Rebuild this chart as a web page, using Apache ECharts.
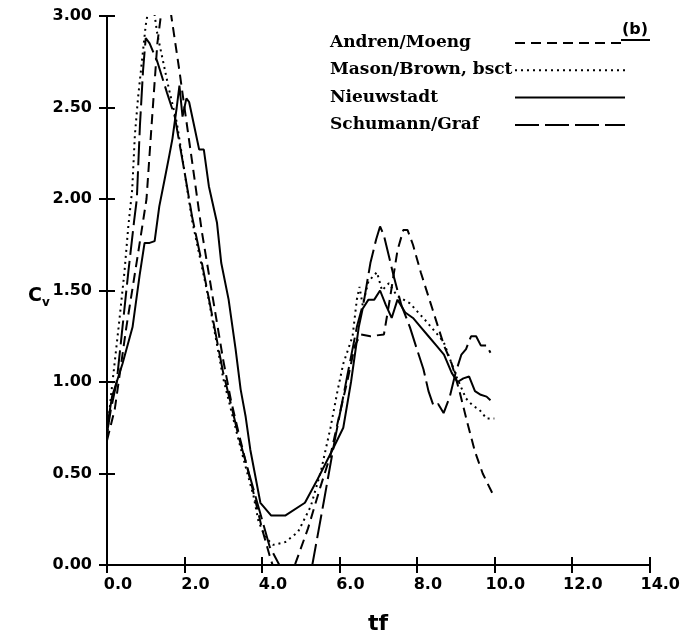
<!DOCTYPE html>
<html><head><meta charset="utf-8">
<script src="https://cdn.jsdelivr.net/npm/echarts@6/dist/echarts.min.js"></script>
<style>html,body{margin:0;padding:0;background:#fff}#c{width:683px;height:640px}</style>
</head><body><div id="c"></div>
<script>
const xTicks = [0, 2, 4, 6, 8, 10, 12, 14];
const yTicks = [0, 0.5, 1, 1.5, 2, 2.5, 3];
const seriesNames = ['Andren/Moeng', 'Mason/Brown, bsct', 'Nieuwstadt', 'Schumann/Graf'];

const andrenX = [0,0.2,0.5,0.8,1.02,1.15,1.3,1.45,1.55,1.66,1.87,2.0,2.2,2.45,2.7,3.0,3.2,3.4,3.6,3.8,4.0,4.2,4.35,4.6,4.85,5.19,5.5,5.77,6.0,6.2,6.4,6.55,6.8,7.15,7.3,7.5,7.65,7.76,7.9,8.1,8.4,8.7,8.9,9.1,9.3,9.5,9.7,10.0];
const andrenY = [0.68,0.85,1.3,1.7,2.0,2.4,2.85,3.1,3.15,3.0,2.7,2.5,2.2,1.82,1.5,1.12,0.9,0.72,0.55,0.38,0.2,0.05,-0.05,-0.1,0.0,0.2,0.42,0.6,0.82,1.0,1.2,1.26,1.25,1.26,1.45,1.72,1.83,1.83,1.75,1.6,1.4,1.2,1.1,0.95,0.78,0.62,0.5,0.37];

const masonX = [0,0.1,0.3,0.45,0.55,0.65,0.72,0.8,0.9,1.0,1.08,1.2,1.3,1.45,1.6,1.8,2.0,2.2,2.4,2.6,2.8,3.0,3.2,3.4,3.6,3.78,3.91,4.09,4.29,4.6,4.93,5.26,5.52,5.77,5.95,6.1,6.34,6.45,6.52,6.6,6.75,6.97,7.1,7.28,7.49,7.82,8.25,8.69,9.02,9.27,9.45,9.61,9.8,10.0];
const masonY = [0.70,0.92,1.3,1.6,1.85,2.05,2.35,2.55,2.75,2.95,3.05,3.05,2.9,2.75,2.6,2.42,2.15,1.88,1.68,1.48,1.25,1.02,0.85,0.68,0.52,0.38,0.24,0.15,0.11,0.125,0.18,0.32,0.51,0.75,0.95,1.1,1.25,1.45,1.52,1.42,1.55,1.6,1.5,1.54,1.47,1.43,1.33,1.22,1.03,0.91,0.87,0.85,0.8,0.8];

const nieuwX = [0,0.13,0.4,0.66,0.84,0.97,1.1,1.23,1.35,1.5,1.61,1.69,1.8,1.87,1.95,2.05,2.12,2.25,2.38,2.5,2.63,2.84,2.95,3.14,3.32,3.45,3.58,3.7,3.96,4.24,4.6,5.11,5.44,5.8,6.1,6.3,6.5,6.6,6.75,6.9,7.05,7.2,7.35,7.5,7.7,7.9,8.1,8.3,8.5,8.7,8.9,9.05,9.2,9.35,9.5,9.65,9.8,9.9];
const nieuwY = [0.75,0.92,1.1,1.3,1.58,1.76,1.76,1.77,1.96,2.12,2.24,2.33,2.5,2.62,2.45,2.55,2.53,2.4,2.27,2.27,2.07,1.87,1.65,1.45,1.18,0.96,0.81,0.63,0.34,0.27,0.27,0.34,0.47,0.62,0.75,1.0,1.3,1.4,1.45,1.45,1.5,1.42,1.35,1.45,1.38,1.35,1.3,1.25,1.2,1.15,1.05,1.0,1.02,1.03,0.95,0.93,0.92,0.9];

const schuX = [0,0.1,0.25,0.4,0.55,0.7,0.77,0.85,0.93,1.0,1.1,1.3,1.55,1.75,2.0,2.2,2.45,2.7,3.0,3.2,3.4,3.6,3.8,4.0,4.2,4.45,4.8,5.3,5.6,5.87,6.2,6.45,6.64,6.8,6.95,7.05,7.15,7.4,7.6,7.82,8.0,8.17,8.3,8.43,8.55,8.69,8.85,9.0,9.15,9.27,9.4,9.53,9.65,9.8,9.9];
const schuY = [0.72,0.85,1.0,1.3,1.6,1.88,2.0,2.4,2.7,2.88,2.85,2.75,2.58,2.45,2.15,1.9,1.65,1.38,1.05,0.88,0.7,0.55,0.4,0.25,0.1,0.0,-0.1,0.0,0.35,0.67,1.03,1.3,1.45,1.65,1.78,1.85,1.8,1.58,1.42,1.30,1.18,1.07,0.95,0.87,0.88,0.83,0.92,1.05,1.15,1.18,1.25,1.25,1.2,1.2,1.16];

const dashes = [[10, 6], [2, 4], null, [24, 6]];
const zip = (xs, ys) => xs.map((x, i) => [x, ys[i]]);
const font = 'DejaVu Sans';
const chart = echarts.init(document.getElementById('c'));
const lineBase = (name, data, type) => ({
  name, type: 'line', data, symbol: 'none', showSymbol: false, clip: true,
  lineStyle: { color: '#000', width: 2, type },
  itemStyle: { color: '#000' }
});
const axisCommon = {
  min: 0,
  axisLine: { show: true, lineStyle: { color: '#000', width: 2 } },
  axisTick: { show: true, inside: true, length: 8, lineStyle: { color: '#000', width: 2 } },
  splitLine: { show: false }
};
const legendGraphics = [];
seriesNames.forEach((n, i) => {
  const cy = 43 + i * 27.3;
  legendGraphics.push({ type: 'text', left: 330, top: cy - 9, style: { text: n, fill: '#000', font: 'bold 17px "DejaVu Serif"' } });
  legendGraphics.push({ type: 'line', shape: { x1: 515, y1: cy, x2: 625, y2: cy }, style: { stroke: '#000', lineWidth: 2, lineDash: dashes[i] } });
});
chart.setOption({
  animation: false,
  backgroundColor: '#fff',
  grid: { left: 107, top: 16, width: 548, height: 550 },
  xAxis: [
    Object.assign({}, axisCommon, {
      type: 'value', max: 14, interval: 2, position: 'bottom',
      axisLabel: { color: '#000', fontFamily: font, fontWeight: 'bold', fontSize: 16, margin: 12, padding: [0, 0, 0, 22], formatter: v => v.toFixed(1) },
      name: 'tf', nameLocation: 'middle', nameGap: 48,
      nameTextStyle: { color: '#000', fontFamily: font, fontWeight: 'bold', fontSize: 22 }
    }),
    Object.assign({}, axisCommon, { type: 'value', max: 14, interval: 2, position: 'top', axisLabel: { show: false } })
  ],
  yAxis: [
    Object.assign({}, axisCommon, {
      type: 'value', max: 3, interval: 0.5, position: 'left',
      axisLabel: { color: '#000', fontFamily: font, fontWeight: 'bold', fontSize: 16, margin: 15, formatter: v => v.toFixed(2) }
    }),
    Object.assign({}, axisCommon, { type: 'value', max: 3, interval: 0.5, position: 'right', axisLabel: { show: false } })
  ],
  graphic: legendGraphics.concat([
    { type: 'text', left: 28, top: 287, style: {
      text: '{c|C}{v|v}', rich: {
        c: { fill: '#000', fontFamily: font, fontWeight: 'bold', fontSize: 19 },
        v: { fill: '#000', fontFamily: font, fontWeight: 'bold', fontSize: 12, padding: [12, 0, 0, 0] }
      } } },
    { type: 'text', left: 622, top: 22, style: { text: '(b)', fill: '#000', font: 'bold 16px DejaVu Sans' } },
    { type: 'line', shape: { x1: 621, y1: 40, x2: 650, y2: 40 }, style: { stroke: '#000', lineWidth: 2 } }
  ]),
  series: seriesNames.map((n, i) => lineBase(n,
    zip([andrenX, masonX, nieuwX, schuX][i], [andrenY, masonY, nieuwY, schuY][i]),
    dashes[i] || 'solid'))
});
</script></body></html>
